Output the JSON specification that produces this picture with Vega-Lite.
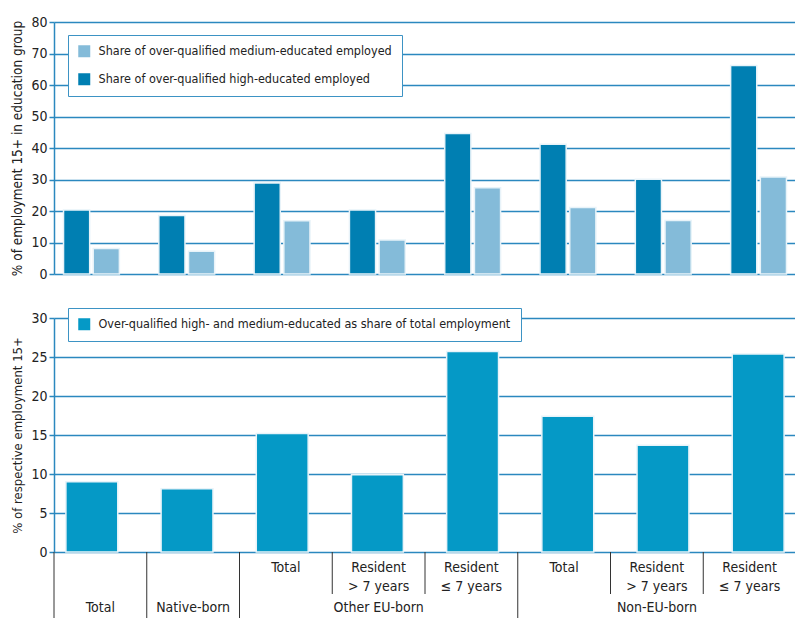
{
  "$schema": "https://vega.github.io/schema/vega-lite/v6.json",
  "padding": {"left": 10, "top": 15, "right": 0, "bottom": 0},
  "background": "white",
  "config": {
    "font": "Liberation Sans Narrow, DejaVu Sans Condensed, Roboto Condensed, sans-serif",
    "view": {"stroke": null},
    "axisY": {
      "domainColor": "#2b88bf", "domainWidth": 1.5,
      "tickColor": "#2b88bf", "tickSize": 5, "tickWidth": 1.5,
      "gridColor": "#2b88bf", "gridWidth": 1.5, "gridOpacity": 1,
      "labelFontSize": 14, "labelColor": "#222", "labelPadding": 2,
      "titleFontSize": 13.5, "titleFontWeight": "normal", "titleColor": "#222", "titlePadding": 6
    },
    "legend": {
      "orient": "none", "title": null,
      "strokeColor": "#3d93c4", "fillColor": "white", "padding": 10,
      "symbolType": "square", "symbolSize": 144, "symbolStrokeWidth": 0,
      "labelFontSize": 12.5, "labelColor": "#222", "labelLimit": 700,
      "labelOffset": 8, "rowPadding": 15
    }
  },
  "datasets": {
    "educ": [
      {"cat": "Total", "series": "Share of over-qualified high-educated employed", "value": 20.3},
      {"cat": "Total", "series": "Share of over-qualified medium-educated employed", "value": 8.1},
      {"cat": "Native-born", "series": "Share of over-qualified high-educated employed", "value": 18.6},
      {"cat": "Native-born", "series": "Share of over-qualified medium-educated employed", "value": 7.2},
      {"cat": "Other EU-born: Total", "series": "Share of over-qualified high-educated employed", "value": 28.9},
      {"cat": "Other EU-born: Total", "series": "Share of over-qualified medium-educated employed", "value": 16.9},
      {"cat": "Other EU-born: Resident > 7 years", "series": "Share of over-qualified high-educated employed", "value": 20.3},
      {"cat": "Other EU-born: Resident > 7 years", "series": "Share of over-qualified medium-educated employed", "value": 10.8},
      {"cat": "Other EU-born: Resident ≤ 7 years", "series": "Share of over-qualified high-educated employed", "value": 44.6},
      {"cat": "Other EU-born: Resident ≤ 7 years", "series": "Share of over-qualified medium-educated employed", "value": 27.4},
      {"cat": "Non-EU-born: Total", "series": "Share of over-qualified high-educated employed", "value": 41.2},
      {"cat": "Non-EU-born: Total", "series": "Share of over-qualified medium-educated employed", "value": 21.1},
      {"cat": "Non-EU-born: Resident > 7 years", "series": "Share of over-qualified high-educated employed", "value": 30.1},
      {"cat": "Non-EU-born: Resident > 7 years", "series": "Share of over-qualified medium-educated employed", "value": 17.0},
      {"cat": "Non-EU-born: Resident ≤ 7 years", "series": "Share of over-qualified high-educated employed", "value": 66.2},
      {"cat": "Non-EU-born: Resident ≤ 7 years", "series": "Share of over-qualified medium-educated employed", "value": 30.8}
    ],
    "total": [
      {"cat": "Total", "series": "Over-qualified high- and medium-educated as share of total employment", "value": 9.0},
      {"cat": "Native-born", "series": "Over-qualified high- and medium-educated as share of total employment", "value": 8.1},
      {"cat": "Other EU-born: Total", "series": "Over-qualified high- and medium-educated as share of total employment", "value": 15.2},
      {"cat": "Other EU-born: Resident > 7 years", "series": "Over-qualified high- and medium-educated as share of total employment", "value": 9.9},
      {"cat": "Other EU-born: Resident ≤ 7 years", "series": "Over-qualified high- and medium-educated as share of total employment", "value": 25.7},
      {"cat": "Non-EU-born: Total", "series": "Over-qualified high- and medium-educated as share of total employment", "value": 17.4},
      {"cat": "Non-EU-born: Resident > 7 years", "series": "Over-qualified high- and medium-educated as share of total employment", "value": 13.7},
      {"cat": "Non-EU-born: Resident ≤ 7 years", "series": "Over-qualified high- and medium-educated as share of total employment", "value": 25.4}
    ],
    "table": [
      {"cat": "Total", "sub": "", "group": "Total", "boundary": "group"},
      {"cat": "Native-born", "sub": "", "group": "Native-born", "boundary": "group"},
      {"cat": "Other EU-born: Total", "sub": "Total", "group": "", "boundary": "group"},
      {"cat": "Other EU-born: Resident > 7 years", "sub": "Resident\n> 7 years", "group": "Other EU-born", "boundary": "sub"},
      {"cat": "Other EU-born: Resident ≤ 7 years", "sub": "Resident\n≤ 7 years", "group": "", "boundary": "sub"},
      {"cat": "Non-EU-born: Total", "sub": "Total", "group": "", "boundary": "group"},
      {"cat": "Non-EU-born: Resident > 7 years", "sub": "Resident\n> 7 years", "group": "Non-EU-born", "boundary": "sub"},
      {"cat": "Non-EU-born: Resident ≤ 7 years", "sub": "Resident\n≤ 7 years", "group": "", "boundary": "sub"}
    ]
  },
  "bounds": "flush",
  "spacing": 44,
  "resolve": {"scale": {"x": "independent", "y": "independent", "color": "independent"}},
  "vconcat": [
    {
      "width": 742,
      "height": 252,
      "data": {"name": "educ"},
      "mark": {"type": "bar", "stroke": "#e8f3f9", "strokeWidth": 1.5},
      "encoding": {
        "x": {"field": "cat", "type": "nominal", "sort": null, "axis": null,
              "scale": {"paddingInner": 0.414, "paddingOuter": 0.1}},
        "xOffset": {"field": "series", "type": "nominal",
                    "sort": ["Share of over-qualified high-educated employed", "Share of over-qualified medium-educated employed"],
                    "scale": {"paddingInner": 0.12, "paddingOuter": 0}},
        "y": {"field": "value", "type": "quantitative",
              "scale": {"domain": [0, 80]},
              "axis": {"values": [0, 10, 20, 30, 40, 50, 60, 70, 80], "title": "% of employment 15+ in education group"}},
        "color": {"field": "series", "type": "nominal",
                  "scale": {"domain": ["Share of over-qualified medium-educated employed", "Share of over-qualified high-educated employed"],
                            "range": ["#84bbd9", "#007fb2"]},
                  "legend": {"legendX": 14, "legendY": 13}}
      }
    },
    {
      "bounds": "flush",
      "spacing": 0,
      "resolve": {"scale": {"x": "independent", "y": "independent", "color": "independent"}},
      "vconcat": [
        {
          "width": 742,
          "height": 234,
          "data": {"name": "total"},
          "mark": {"type": "bar", "stroke": "#e8f3f9", "strokeWidth": 1.5},
          "encoding": {
            "x": {"field": "cat", "type": "nominal", "sort": null, "axis": null,
                  "scale": {"paddingInner": 0.455, "paddingOuter": 0.125}},
            "y": {"field": "value", "type": "quantitative",
                  "scale": {"domain": [0, 30]},
                  "axis": {"values": [0, 5, 10, 15, 20, 25, 30], "title": "% of respective employment 15+", "titleFontSize": 13}},
            "color": {"field": "series", "type": "nominal",
                      "scale": {"range": ["#0599c6"]},
                      "legend": {"legendX": 14, "legendY": -10}}
          }
        },
        {
          "width": 742,
          "height": 66,
          "data": {"name": "table"},
          "layer": [
            {
              "transform": [{"filter": "datum.boundary == 'group'"}],
              "mark": {"type": "rule", "color": "#333", "strokeWidth": 1},
              "encoding": {
                "x": {"field": "cat", "type": "nominal", "bandPosition": 0, "axis": null,
                      "sort": ["Total", "Native-born", "Other EU-born: Total", "Other EU-born: Resident > 7 years", "Other EU-born: Resident ≤ 7 years", "Non-EU-born: Total", "Non-EU-born: Resident > 7 years", "Non-EU-born: Resident ≤ 7 years"],
                      "scale": {"paddingInner": 0, "paddingOuter": 0}}
              }
            },
            {
              "transform": [{"filter": "datum.boundary == 'sub'"}],
              "mark": {"type": "rule", "color": "#333", "strokeWidth": 1},
              "encoding": {
                "x": {"field": "cat", "type": "nominal", "bandPosition": 0,
                      "sort": ["Total", "Native-born", "Other EU-born: Total", "Other EU-born: Resident > 7 years", "Other EU-born: Resident ≤ 7 years", "Non-EU-born: Total", "Non-EU-born: Resident > 7 years", "Non-EU-born: Resident ≤ 7 years"]},
                "y": {"value": 0},
                "y2": {"value": 42}
              }
            },
            {
              "mark": {"type": "text", "fontSize": 14, "color": "#222", "baseline": "top", "lineBreak": "\n", "lineHeight": 19},
              "encoding": {
                "x": {"field": "cat", "type": "nominal",
                      "sort": ["Total", "Native-born", "Other EU-born: Total", "Other EU-born: Resident > 7 years", "Other EU-born: Resident ≤ 7 years", "Non-EU-born: Total", "Non-EU-born: Resident > 7 years", "Non-EU-born: Resident ≤ 7 years"]},
                "text": {"field": "sub"},
                "y": {"datum": "subgroup", "type": "nominal", "scale": {"type": "point", "domain": ["subgroup", "group"], "range": [9, 49], "padding": 0}, "axis": null}
              }
            },
            {
              "mark": {"type": "text", "fontSize": 14, "color": "#222", "baseline": "top"},
              "encoding": {
                "x": {"field": "cat", "type": "nominal",
                      "sort": ["Total", "Native-born", "Other EU-born: Total", "Other EU-born: Resident > 7 years", "Other EU-born: Resident ≤ 7 years", "Non-EU-born: Total", "Non-EU-born: Resident > 7 years", "Non-EU-born: Resident ≤ 7 years"]},
                "text": {"field": "group"},
                "y": {"datum": "group", "type": "nominal"}
              }
            }
          ]
        }
      ]
    }
  ]
}
